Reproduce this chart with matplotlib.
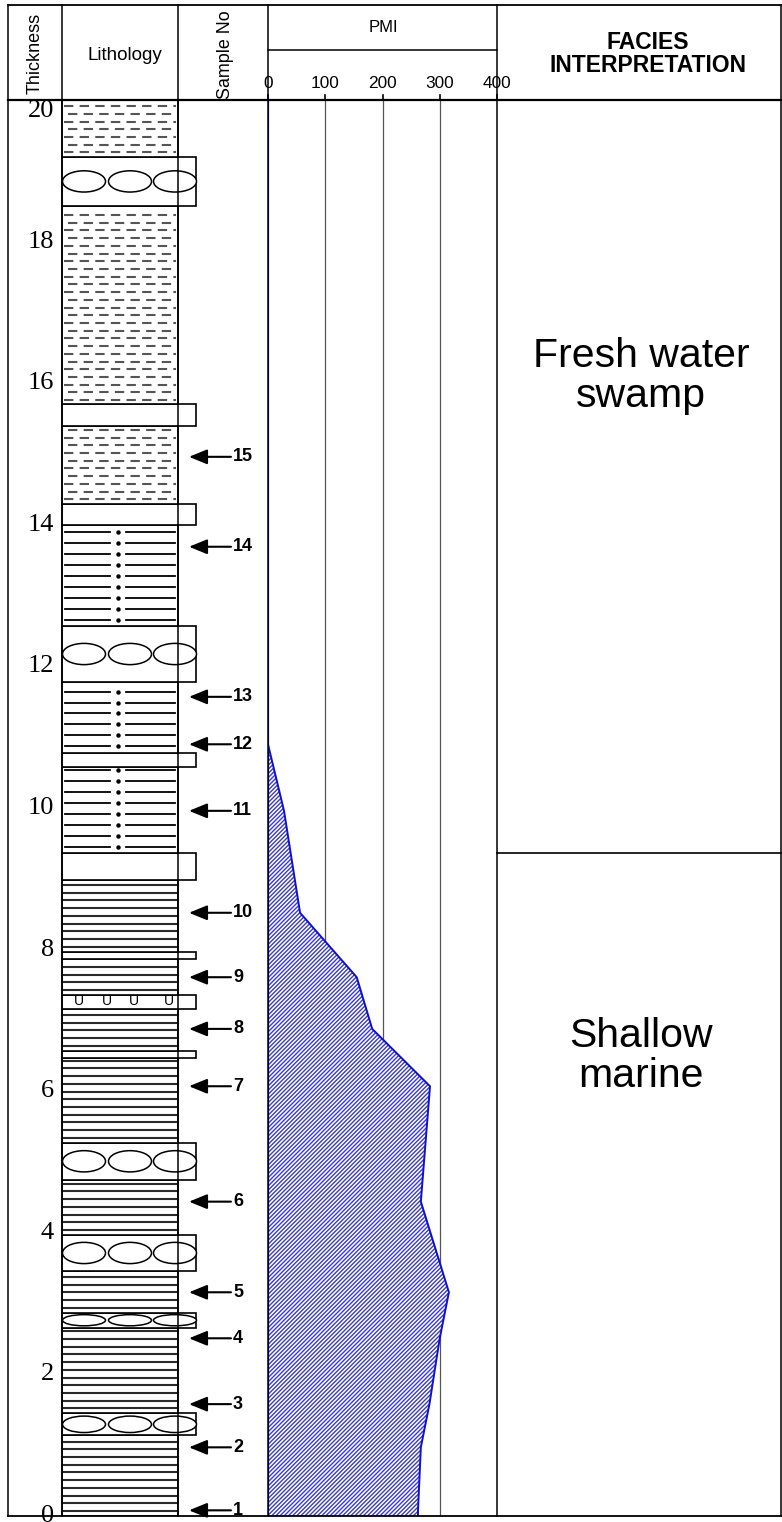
import numpy as np
import matplotlib.pyplot as plt
from matplotlib.patches import Rectangle, Ellipse

plt.rcParams['font.family'] = ['Liberation Sans', 'DejaVu Sans']
plt.rcParams['hatch.linewidth'] = 1.0

# lithology beds from bottom to top: base depth (m) and type
bed_base = [0, 1.14, 1.45, 2.66, 2.87, 3.46, 3.97, 4.75, 5.27, 6.47, 6.57, 7.16, 7.36,
            7.87, 7.97, 8.98, 9.36, 10.58, 10.78, 11.78, 12.57, 14.0, 14.3, 15.4, 15.7,
            18.5, 19.2]
bed_type = ['shale', 'congl', 'shale', 'congl', 'shale', 'congl', 'shale', 'congl', 'shale',
            'blank', 'shale', 'shell', 'shale', 'blank', 'shale', 'blank', 'silt', 'blank',
            'silt', 'congl', 'silt', 'blank', 'clay', 'blank', 'clay', 'congl', 'clay']
log_top = 20

sample_no = list(range(1, 16))
sample_depth = [0.08, 0.97, 1.58, 2.51, 3.16, 4.44, 6.07, 6.88, 7.61, 8.52, 9.96, 10.9,
                11.57, 13.69, 14.96]
pmi = [262, 267, 282, 300, 316, 267, 283, 182, 155, 56, 28, 0, 0, 0, 0]

depth_ticks = [0, 2, 4, 6, 8, 10, 12, 14, 16, 18, 20]
pmi_ticks = [0, 100, 200, 300, 400]

facies_base = [0, 9.36]
facies_label = ['Shallow\nmarine', 'Fresh water\nswamp']
facies_label_depth = [6.5, 16.1]

# layout in pixels
W, H = 782, 1522
X0, X_LITH, X_LITH_R, X_WIDE, X_SAMP_R, X_PMI_R, X1 = 8, 62, 178, 196, 268, 497, 781
Y_TOP, Y_HEAD, Y_BOT = 5, 100, 1516

fig = plt.figure(figsize=(W / 100, H / 100), dpi=100)
b = (H - Y_BOT) / H
h = (Y_BOT - Y_HEAD) / H

# body axes: x in pixels, y in metres
ax = fig.add_axes([0, b, 1, h])
ax.set_xlim(0, W)
ax.set_ylim(0, log_top)
ax.axis('off')

tops = bed_base[1:] + [log_top]
for bot, top, kind in zip(bed_base, tops, bed_type):
    wide = kind in ('congl', 'blank', 'shell')
    xr = X_WIDE if wide else X_LITH_R
    ax.add_patch(Rectangle((X_LITH, bot), xr - X_LITH, top - bot, facecolor='white',
                           edgecolor='black', lw=1.2, zorder=3))
    thick = top - bot
    if kind == 'shale':
        for y in np.arange(bot + 0.07, top - 0.02, 0.109):
            ax.plot([X_LITH, X_LITH_R], [y, y], color='#2a2a2a', lw=1.5, zorder=4)
    elif kind == 'silt':
        for y in np.arange(bot + 0.09, top - 0.04, 0.155):
            ax.plot([X_LITH + 3, 110], [y, y], color='black', lw=1.3, zorder=4)
            ax.plot([126, X_LITH_R - 3], [y, y], color='black', lw=1.3, zorder=4)
            ax.plot([118], [y], 'o', color='black', ms=2.2, zorder=4)
    elif kind == 'clay':
        for i, y in enumerate(np.arange(bot + 0.06, top - 0.02, 0.109)):
            off = 0 if i % 2 == 0 else 4
            ax.plot([X_LITH + 2 + off, X_LITH_R - 2], [y, y], color='#555555', lw=1.5,
                    linestyle=(0, (4.5, 3)), zorder=4)
    elif kind == 'congl':
        eh = min(0.75 * thick, 0.3)
        for xc in (84, 130, 175):
            ax.add_patch(Ellipse((xc, (bot + top) / 2), 43, eh, facecolor='white',
                                 edgecolor='black', lw=1.1, zorder=4))
    elif kind == 'shell':
        for xc in (79, 107, 134, 169):
            ax.text(xc, (bot + top) / 2 + 0.02, 'U', fontsize=10, ha='center',
                    va='center', zorder=4)

# depth labels
for t in depth_ticks:
    ax.text(54, t, str(t), fontsize=19, family='Liberation Serif', ha='right',
            va='top' if t == log_top else 'center')

# sample arrows
for n, d in zip(sample_no, sample_depth):
    ax.annotate('', xy=(189, d), xytext=(231, d),
                arrowprops=dict(arrowstyle='-|>,head_length=1.1,head_width=0.45',
                                color='black', lw=1.5, shrinkA=0, shrinkB=0))
    ax.text(233, d, str(n), fontsize=13, fontweight='bold', ha='left', va='center')

# facies column
for fb, lab, ld in zip(facies_base, facies_label, facies_label_depth):
    if fb > 0:
        ax.plot([X_PMI_R, X1], [fb, fb], color='black', lw=1.2)
    ax.text((X_PMI_R + X1) / 2 + 2, ld, lab, fontsize=29.5, ha='center', va='center',
            linespacing=1.05)

# PMI track
pax = fig.add_axes([X_SAMP_R / W, b, (X_PMI_R - X_SAMP_R) / W, h])
pax.set_xlim(0, 400)
pax.set_ylim(0, log_top)
pax.axis('off')
pax.patch.set_alpha(0)
for t in pmi_ticks[1:-1]:
    pax.axvline(t, color='#555555', lw=0.9, zorder=1)
prof_d = [0] + sample_depth + [log_top]
prof_v = [pmi[0]] + pmi + [0]
pax.fill_betweenx(prof_d, 0, prof_v, facecolor='white', edgecolor='#3a3ad6',
                  hatch='////////', lw=0, zorder=2)
pax.plot(prof_v, prof_d, color='#1010d0', lw=1.4, zorder=3)
pax.plot([0, 0], [0, log_top], color='#1010d0', lw=1.6, zorder=3)

# frame and header in pixel coordinates
fr = fig.add_axes([0, 0, 1, 1])
fr.set_xlim(0, W)
fr.set_ylim(H, 0)
fr.axis('off')
fr.patch.set_alpha(0)
for x in (X0, X_LITH, X_LITH_R, X_SAMP_R, X_PMI_R, X1):
    fr.plot([x, x], [Y_TOP, Y_BOT], color='black', lw=1.1)
fr.plot([X0, X1], [Y_TOP, Y_TOP], color='black', lw=1.3)
fr.plot([X0, X1], [Y_HEAD, Y_HEAD], color='black', lw=1.6)
fr.plot([X0, X1], [Y_BOT, Y_BOT], color='black', lw=1.3)
fr.plot([X_SAMP_R, X_PMI_R], [50, 50], color='black', lw=1.1)

fr.text(35, 53, 'Thickness', rotation=90, fontsize=13, ha='center', va='center')
fr.text(125, 55, 'Lithology', fontsize=13.5, ha='center', va='center')
fr.text(226, 99, 'Sample No', rotation=90, fontsize=12.9, ha='center', va='bottom')
fr.text(383, 28, 'PMI', fontsize=12, ha='center', va='center')
fr.text(648, 54, 'FACIES\nINTERPRETATION', fontsize=16.5, fontweight='bold',
        ha='center', va='center', linespacing=1.0)
for t in pmi_ticks:
    x = X_SAMP_R + t / 400 * (X_PMI_R - X_SAMP_R)
    fr.plot([x, x], [95, Y_HEAD], color='black', lw=1.2)
    fr.text(x, 83, str(t), fontsize=12.4, ha='center', va='center')

fig.savefig('out.png', dpi=100)
